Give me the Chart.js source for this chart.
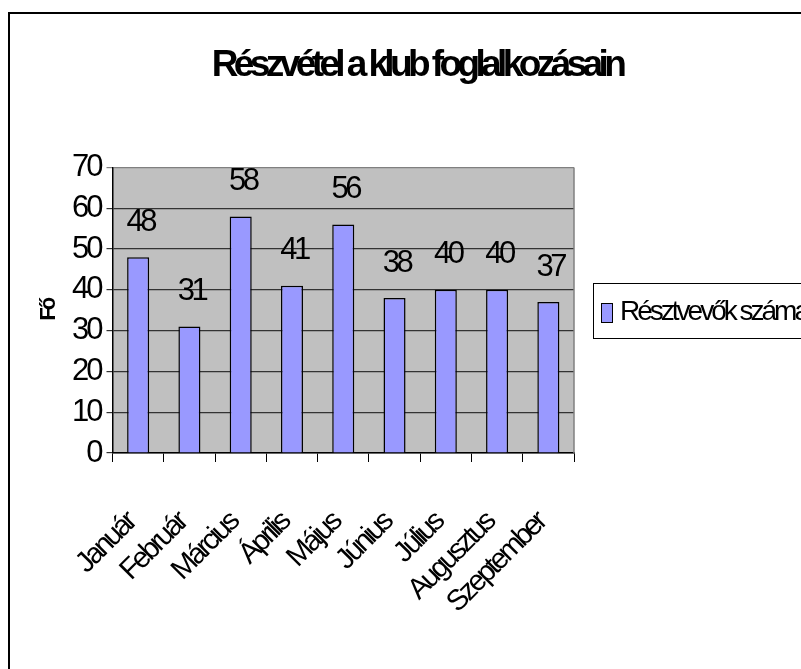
<!DOCTYPE html>
<html>
<head>
<meta charset="utf-8">
<script src="https://cdn.jsdelivr.net/npm/chart.js@4.4.1/dist/chart.umd.min.js"></script>
<style>
  html, body { margin: 0; padding: 0; background: #fff; overflow: hidden; }
  canvas { display: block; }
</style>
</head>
<body>
<canvas id="chart" width="801" height="669"></canvas>
<script>
// chart data
const months = ['Január', 'Február', 'Március', 'Április', 'Május', 'Június', 'Július', 'Augusztus', 'Szeptember'];
const participants = [48, 31, 58, 41, 56, 38, 40, 40, 37];
const yTicks = [0, 10, 20, 30, 40, 50, 60, 70];
const chartTitle = 'Részvétel a klub foglalkozásain';
const seriesName = 'Résztvevők száma';
const yTitle = 'Fő';

const FONT = "'Liberation Sans', Arial, sans-serif";

// gray plot background + squeezed text like the original
const backgroundPlugin = {
  id: 'plotBg',
  beforeDraw(chart) {
    const { ctx, chartArea: a } = chart;
    ctx.save();
    ctx.fillStyle = '#c0c0c0';
    ctx.fillRect(a.left, a.top, a.right - a.left, a.bottom - a.top);
    ctx.restore();
    ctx.letterSpacing = '-3px';
  },
  afterDraw(chart) {
    const { ctx, chartArea: a } = chart;
    ctx.save();
    // right edge of plot area
    ctx.strokeStyle = '#808080';
    ctx.lineWidth = 1.5;
    ctx.beginPath();
    ctx.moveTo(a.right, a.top);
    ctx.lineTo(a.right, a.bottom);
    ctx.stroke();
    // outer frame (left + top visible)
    ctx.strokeStyle = '#000';
    ctx.lineWidth = 2;
    ctx.beginPath();
    ctx.moveTo(9, 700);
    ctx.lineTo(9, 13);
    ctx.lineTo(820, 13);
    ctx.stroke();
    ctx.restore();
  }
};

// value labels floating above each bar
const valueLabels = {
  id: 'valueLabels',
  afterDatasetsDraw(chart) {
    const { ctx } = chart;
    const meta = chart.getDatasetMeta(0);
    ctx.save();
    ctx.font = '31px ' + FONT;
    ctx.letterSpacing = '-3.5px';
    ctx.fillStyle = '#000';
    ctx.textAlign = 'center';
    ctx.textBaseline = 'middle';
    meta.data.forEach((bar, i) => {
      ctx.fillText(String(participants[i]), bar.x + 2, bar.y - 35);
    });
    ctx.restore();
  }
};

// title and boxed legend on the right
const titleLegend = {
  id: 'titleLegend',
  afterDraw(chart) {
    const { ctx } = chart;
    ctx.save();
    ctx.fillStyle = '#000';
    ctx.font = 'bold 37px ' + FONT;
    ctx.letterSpacing = '-4.6px';
    ctx.textAlign = 'center';
    ctx.textBaseline = 'alphabetic';
    ctx.fillText(chartTitle, 417, 76);

    ctx.strokeStyle = '#000';
    ctx.lineWidth = 1;
    ctx.strokeRect(593.5, 283.5, 300, 55);
    const ds = chart.data.datasets[0];
    ctx.fillStyle = ds.backgroundColor;
    ctx.fillRect(601.5, 303.5, 11, 19);
    ctx.strokeRect(601.5, 303.5, 11, 19);
    ctx.fillStyle = '#000';
    ctx.font = '28px ' + FONT;
    ctx.letterSpacing = '-3px';
    ctx.textAlign = 'left';
    ctx.textBaseline = 'middle';
    ctx.fillText(ds.label, 620, 312);
    ctx.restore();
  }
};

new Chart(document.getElementById('chart'), {
  type: 'bar',
  data: {
    labels: months,
    datasets: [{
      label: seriesName,
      data: participants,
      backgroundColor: '#9999ff',
      borderColor: '#000',
      borderWidth: 1.5,
      barPercentage: 0.43,
      categoryPercentage: 1
    }]
  },
  options: {
    responsive: false,
    animation: false,
    layout: { padding: { left: 36, top: 167.5, right: 227, bottom: 0 } },
    plugins: {
      legend: { display: false },
      title: { display: false },
      tooltip: { enabled: false }
    },
    scales: {
      x: {
        grid: { offset: true, drawOnChartArea: false, drawTicks: true, tickLength: 9, color: '#000' },
        border: { color: '#000', width: 1.5 },
        ticks: {
          autoSkip: false,
          minRotation: 45, maxRotation: 45, padding: 44, labelOffset: -7,
          color: '#000', font: { family: FONT, size: 29 }
        },
        afterFit(s) { s.height = 216; }
      },
      y: {
        min: 0, max: 70,
        afterBuildTicks(s) { s.ticks = yTicks.map(v => ({ value: v })); },
        ticks: { color: '#000', padding: 6, font: { family: FONT, size: 31 } },
        grid: {
          color: c => (c.tick && c.tick.value === 70 ? '#808080' : '#333'),
          lineWidth: 1.2,
          tickLength: 6
        },
        border: { color: '#000', width: 1.5 },
        title: {
          display: true, text: yTitle, color: '#000',
          font: { family: FONT, size: 22, weight: 'bold' },
          padding: { top: 0, bottom: 0 }
        },
        afterFit(s) { s.width = 76.5; }
      }
    }
  },
  plugins: [backgroundPlugin, valueLabels, titleLegend]
});
</script>
</body>
</html>
